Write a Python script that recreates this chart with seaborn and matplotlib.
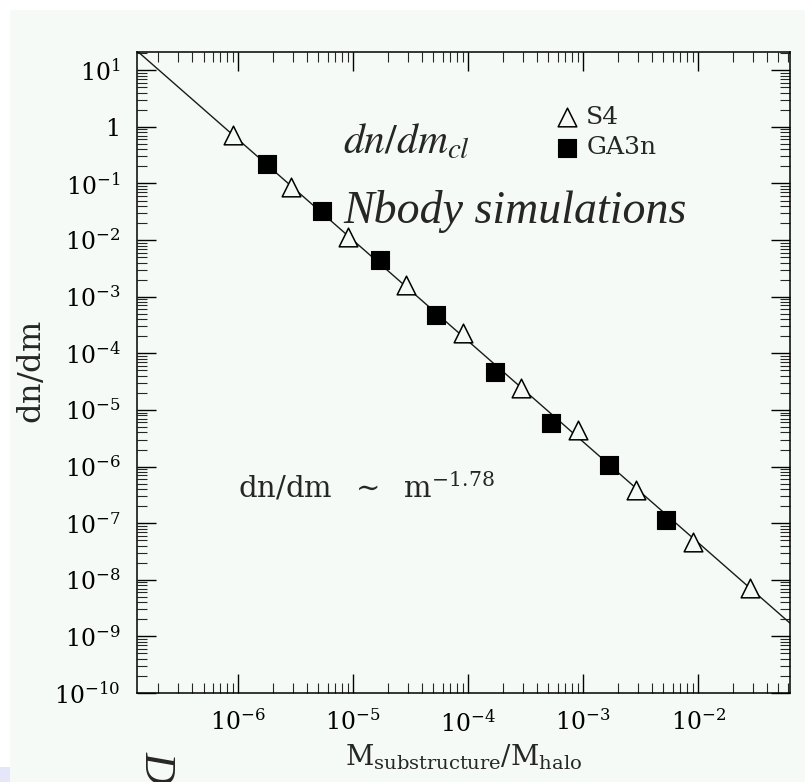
import numpy as np
import pandas as pd
import seaborn as sns
import matplotlib
matplotlib.use("Agg")
import matplotlib.pyplot as plt
from matplotlib.patches import Rectangle
from matplotlib.ticker import LogLocator, FuncFormatter, NullFormatter

# Substructure mass function, S4 run (open triangles)
s4_mass = [9.1e-7, 2.9e-6, 9.1e-6, 2.9e-5, 9.1e-5, 2.9e-4, 9.1e-4, 2.9e-3, 9.1e-3, 2.8e-2]
s4_dndm = [0.72, 0.087, 0.0114, 1.62e-3, 2.3e-4, 2.45e-5, 4.4e-6, 3.9e-7, 4.7e-8, 7.2e-9]

# Substructure mass function, GA3n run (filled squares)
ga3n_mass = [1.79e-6, 5.4e-6, 1.72e-5, 5.3e-5, 1.72e-4, 5.3e-4, 1.68e-3, 5.3e-3]
ga3n_dndm = [0.222, 0.0328, 4.47e-3, 4.8e-4, 4.7e-5, 5.9e-6, 1.07e-6, 1.14e-7]

# Power-law fit dn/dm = A m^slope
slope = -1.78
norm = 1.25e-11

x_limits = (1.32e-7, 6.3e-2)
y_limits = (1e-10, 21.0)

panel_color = "#f5faf6"

sns.set_style("ticks")
plt.rcParams["font.family"] = ["DejaVu Serif"]
plt.rcParams["mathtext.fontset"] = "dejavuserif"

fig = plt.figure(figsize=(8.05, 7.82), dpi=100)
fig.patch.set_facecolor("white")
W, H = 805.0, 782.0

# page background
fig.patches.append(Rectangle((10 / W, 0), 1 - 10 / W, 1 - 10 / H, transform=fig.transFigure,
                             facecolor=panel_color, edgecolor="none", zorder=-10))
fig.patches.append(Rectangle((0, 0), 10 / W, 15 / H, transform=fig.transFigure,
                             facecolor="#e6e6fa", edgecolor="none", zorder=-10))

ax = fig.add_axes([137 / W, 1 - 693 / H, (790 - 137) / W, (693 - 52) / H])
ax.set_facecolor(panel_color)
ax.set_xscale("log")
ax.set_yscale("log")
ax.set_xlim(*x_limits)
ax.set_ylim(*y_limits)

# fitted power law across the full mass range
fit_mass = np.logspace(np.log10(x_limits[0]), np.log10(x_limits[1]), 50)
fit = pd.DataFrame({"m": fit_mass, "dndm": norm * fit_mass ** slope})
sns.lineplot(data=fit, x="m", y="dndm", ax=ax, color="#1a1a1a", lw=1.0, zorder=2)

s4 = pd.DataFrame({"m": s4_mass, "dndm": s4_dndm})
ga3n = pd.DataFrame({"m": ga3n_mass, "dndm": ga3n_dndm})
sns.scatterplot(data=s4, x="m", y="dndm", ax=ax, marker="^", s=180,
                facecolor=panel_color, edgecolor="black", linewidth=1.1,
                label="S4", zorder=3)
sns.scatterplot(data=ga3n, x="m", y="dndm", ax=ax, marker="s", s=150,
                color="black", edgecolor="black", linewidth=0.8,
                label="GA3n", zorder=3)


def pow_label(v, pos):
    e = int(round(np.log10(v)))
    if e == 0:
        return "1"
    return r"$10^{%d}$" % e


ax.xaxis.set_major_locator(LogLocator(base=10, numticks=20))
ax.yaxis.set_major_locator(LogLocator(base=10, numticks=20))
ax.xaxis.set_minor_locator(LogLocator(base=10, subs=np.arange(2, 10), numticks=100))
ax.yaxis.set_minor_locator(LogLocator(base=10, subs=np.arange(2, 10), numticks=100))
ax.xaxis.set_major_formatter(FuncFormatter(pow_label))
ax.yaxis.set_major_formatter(FuncFormatter(pow_label))
ax.xaxis.set_minor_formatter(NullFormatter())
ax.yaxis.set_minor_formatter(NullFormatter())

ax.tick_params(which="major", direction="in", length=13.5, width=1.0,
               top=True, right=True, labelsize=17, pad=12, colors="black")
ax.tick_params(which="minor", direction="in", length=7.5, width=0.8,
               top=True, right=True)
for sp in ax.spines.values():
    sp.set_linewidth(1.1)
    sp.set_color("black")
    sp.set_visible(True)

ax.set_xlabel(r"$\mathrm{M_{substructure}/M_{halo}}$", fontsize=20, va="baseline")
ax.xaxis.set_label_coords(0.5, -(765 - 693) / 641)
ax.set_ylabel(r"$\mathrm{dn/dm}$", fontsize=23, va="center")
ax.yaxis.set_label_coords(-(137 - 33) / 653, 0.5)

leg = ax.legend(loc="center left", bbox_to_anchor=((555 - 137) / 653, (693 - 132.5) / 641),
                frameon=False, fontsize=18, handlelength=0.95, handletextpad=0.3,
                labelspacing=0.3, borderpad=0, borderaxespad=0, markerscale=1.0)

ax.text((343 - 137) / 653, (693 - 153) / 641, r"$dn/dm_{cl}$", transform=ax.transAxes,
        fontsize=30, math_fontfamily="stix", va="baseline", ha="left")
ax.text((343 - 137) / 653, (693 - 223) / 641, "Nbody simulations", transform=ax.transAxes,
        fontsize=33, family="Liberation Serif", style="italic", va="baseline", ha="left")
ax.text((238 - 137) / 653, (693 - 497) / 641,
        r"$\mathrm{dn/dm}\ \ \sim\ \ \mathrm{m}^{-1.78}$",
        transform=ax.transAxes, fontsize=21, va="baseline", ha="left")

fig.text(156 / W, 1 - 751 / H, "D", rotation=-90, fontsize=32, family="Liberation Serif",
         style="italic", va="top", ha="center")

fig.savefig("out.png", dpi=100, facecolor=fig.get_facecolor())
